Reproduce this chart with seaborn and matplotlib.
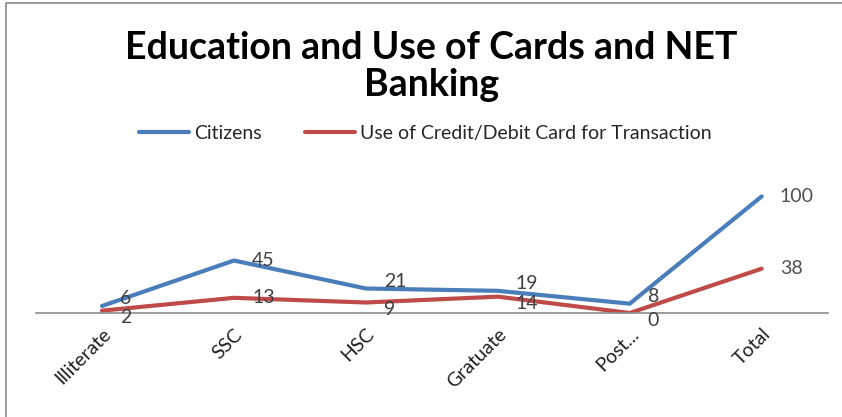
import matplotlib
matplotlib.use("Agg")
import matplotlib.pyplot as plt
import matplotlib.transforms as mtransforms
import seaborn as sns
import pandas as pd
from matplotlib.patches import Rectangle

categories = ["Illiterate", "SSC", "HSC", "Gratuate", "Post...", "Total"]
citizens = [6, 45, 21, 19, 8, 100]
card_use = [2, 13, 9, 14, 0, 38]
series_names = ["Citizens", "Use of Credit/Debit Card for Transaction"]
colors = ["#4a7ebb", "#be4b48"]

sns.set_theme(style="white")
plt.rcParams["font.family"] = ["Lato", "DejaVu Sans"]

df = pd.DataFrame({
    "Education": categories * 2,
    "pos": list(range(len(categories))) * 2,
    "value": citizens + card_use,
    "Series": [series_names[0]] * len(categories) + [series_names[1]] * len(categories),
})

fig = plt.figure(figsize=(8.42, 4.17), dpi=100)
ax = fig.add_axes([0.0428, 0.2494, 0.9402, 0.3357])

sns.lineplot(data=df, x="pos", y="value", hue="Series", palette=colors,
             linewidth=3, ax=ax, legend=False, sort=False)

ax.set_xlim(-0.5, len(categories) - 0.5)
ax.set_ylim(0, 120)
ax.set_xticks(range(len(categories)))
ax.set_xticklabels(categories, rotation=45, ha="right", rotation_mode="anchor",
                   fontsize=14, color="#202020")
shift = mtransforms.ScaledTranslation(10 / 100, 0, fig.dpi_scale_trans)
for lbl in ax.get_xticklabels():
    lbl.set_transform(lbl.get_transform() + shift)
ax.tick_params(axis="x", length=0, pad=9)
ax.set_yticks([])
ax.set_xlabel("")
ax.set_ylabel("")
for side in ["top", "left", "right"]:
    ax.spines[side].set_visible(False)
ax.spines["bottom"].set_color("#8c8c8c")
ax.spines["bottom"].set_linewidth(1.2)
ax.patch.set_alpha(0)

# value labels to the right of each point; where the two series sit close
# together, the upper label is lifted and the lower one dropped a little
for i, (a, b) in enumerate(zip(citizens, card_use)):
    close = abs(a - b) < 15
    for v, upper in ((a, True), (b, False)):
        dy = 0
        va = "center"
        if close:
            va = "bottom" if upper else "top"
            dy = -1 if upper else 1
        col = "#505050" if i == len(categories) - 1 else "#404040"
        ax.annotate(str(v), (i, v), xytext=(13, dy), textcoords="offset points",
                    ha="left", va=va, fontsize=14, color=col,
                    annotation_clip=False)

fig.text(0.512, 0.84, "Education and Use of Cards and NET\nBanking",
         ha="center", va="center", fontsize=27, fontweight="bold",
         linespacing=1.12, color="black")

handles = [plt.Line2D([], [], color=c, lw=3) for c in colors]
fig.legend(handles, series_names, loc="center", bbox_to_anchor=(0.505, 0.681),
           ncol=2, frameon=False, fontsize=14, handlelength=2.6,
           handletextpad=0.25, columnspacing=2.2)

fig.patches.append(Rectangle((6 / 842, -0.05), 1.2, 1 - 3 / 417 + 0.05,
                             transform=fig.transFigure, fill=False,
                             edgecolor="#8c8c8c", linewidth=1.2))

fig.savefig("out.png", dpi=100)
